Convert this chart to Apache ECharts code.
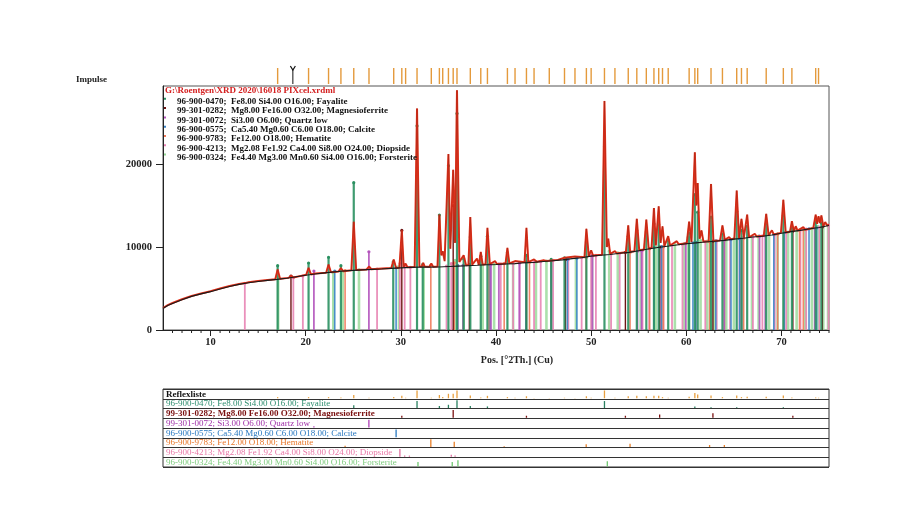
<!DOCTYPE html>
<html><head><meta charset="utf-8">
<script src="https://cdn.jsdelivr.net/npm/echarts@6/dist/echarts.min.js"></script>
<style>html,body{margin:0;padding:0;background:#fff}#c{width:906px;height:515px}</style>
</head><body><div id="c"></div><script>
// ---------- DATA ----------
const xTicks = [10, 20, 30, 40, 50, 60, 70];
const yTicks = [0, 10000, 20000];
const fileTitle = 'G:\\Roentgen\\XRD 2020\\16018 PIXcel.xrdml';
const yName = 'Impulse';
const xName = 'Pos. [°2Th.] (Cu)';
const tableTitle = 'Reflexliste';
const phaseCodes = ['96-900-0470', '99-301-0282', '99-301-0072', '96-900-0575', '96-900-9783', '96-900-4213', '96-900-0324'];
const phaseFormulas = ['Fe8.00 Si4.00 O16.00', 'Mg8.00 Fe16.00 O32.00', 'Si3.00 O6.00', 'Ca5.40 Mg0.60 C6.00 O18.00', 'Fe12.00 O18.00', 'Mg2.08 Fe1.92 Ca4.00 Si8.00 O24.00', 'Fe4.40 Mg3.00 Mn0.60 Si4.00 O16.00'];
const phaseNames = ['Fayalite', 'Magnesioferrite', 'Quartz low', 'Calcite', 'Hematite', 'Diopside', 'Forsterite'];

// observed pattern [2theta, counts]
const profile = [[5.0,2650],[5.5,3000],[6.0,3250],[7.0,3700],[8.0,4100],[9.0,4400],[10.0,4680],[11.0,5000],[12.0,5300],[13.0,5550],[13.6,5650],[14.0,5750],[15.0,5900],[16.0,6030],[16.8,6120],[17.05,7300],[17.3,6170],[18.2,6280],[18.45,6550],[18.7,6330],[19.5,6520],[20.05,6650],[20.3,7500],[20.55,6700],[21.0,6800],[22.15,6900],[22.4,7900],[22.65,6950],[23.45,7050],[23.7,7450],[23.95,7080],[24.8,7200],[25.05,13050],[25.3,7230],[26.4,7300],[26.65,7650],[26.9,7320],[28.0,7400],[29.0,7460],[29.25,8500],[29.5,7480],[29.85,7520],[30.1,12000],[30.3,7600],[30.5,8000],[30.7,7560],[31.45,7600],[31.7,26700],[31.95,7650],[32.2,7650],[32.35,8100],[32.5,7650],[33.0,7630],[33.2,8000],[33.4,7630],[33.85,7650],[34.05,13900],[34.25,9000],[34.4,9500],[34.6,8300],[34.8,8500],[35.0,21200],[35.2,9800],[35.5,19300],[35.7,10500],[35.9,28900],[36.15,8200],[36.6,9000],[36.85,7800],[37.1,7820],[37.3,13600],[37.5,7880],[38.0,8600],[38.2,7850],[38.4,9400],[38.6,7880],[38.9,7920],[39.1,12300],[39.35,7950],[39.9,8300],[40.1,7950],[41.0,8000],[41.2,9900],[41.4,8020],[42.0,8300],[42.2,8060],[43.0,8150],[43.2,12300],[43.4,8170],[44.0,8500],[44.3,8220],[45.0,8400],[45.3,8320],[46.5,8450],[47.2,8700],[47.4,8520],[48.3,8850],[48.5,8700],[49.3,8780],[49.5,12200],[49.75,8900],[50.0,9600],[50.2,8980],[51.15,9060],[51.4,27600],[51.65,10000],[51.8,11000],[52.0,9180],[52.5,9500],[52.7,9230],[53.2,9320],[53.65,9370],[53.9,12600],[54.1,9420],[54.55,9500],[54.8,13400],[55.05,9620],[55.55,9700],[55.8,13300],[56.05,9820],[56.35,9880],[56.6,14700],[56.8,10200],[57.1,14900],[57.3,10500],[57.5,12500],[57.7,10100],[58.1,11300],[58.3,10180],[59.0,10700],[59.2,10320],[60.05,10460],[60.3,13050],[60.55,10600],[60.9,21400],[61.05,15000],[61.2,17700],[61.4,11000],[61.6,12000],[61.8,10650],[62.35,10680],[62.6,17600],[62.85,10720],[63.55,10790],[63.8,12600],[64.05,10850],[64.5,11200],[64.7,10920],[65.05,11000],[65.3,16800],[65.55,11050],[65.8,13400],[66.05,11120],[66.4,13900],[66.6,11170],[67.2,11600],[67.4,11260],[68.15,11360],[68.4,14000],[68.65,11420],[69.0,12000],[69.2,11500],[69.95,11700],[70.2,15700],[70.45,11760],[70.9,11850],[71.1,13100],[71.3,11920],[71.5,12500],[71.7,11980],[72.3,12400],[72.5,12080],[73.35,12300],[73.6,13900],[73.75,12800],[73.9,13700],[74.05,12900],[74.2,13800],[74.4,12500],[74.6,13000],[74.8,12600],[75.0,12700]];

// background line [2theta, counts]
const background = [[5,2600],[5.5,2950],[6,3200],[7,3650],[8,4050],[9,4350],[10,4620],[11,4950],[12,5250],[13,5500],[14,5700],[15,5850],[16,5980],[17,6100],[18,6230],[19,6420],[20,6600],[21,6750],[22,6880],[23,7000],[24,7100],[25,7180],[26,7250],[27,7300],[28,7350],[29,7420],[30,7480],[31,7540],[32,7580],[33,7580],[34,7600],[35,7650],[36,7700],[37,7750],[38,7800],[39,7860],[40,7900],[41,7950],[42,8000],[43,8100],[44,8150],[45,8250],[46,8350],[47,8450],[48,8600],[49,8700],[50,8900],[51,9000],[52,9100],[53,9250],[54,9350],[55,9550],[56,9750],[57,9950],[58,10100],[59,10250],[60,10400],[61,10500],[62,10600],[63,10700],[64,10800],[65,10950],[66,11050],[67,11200],[68,11300],[69,11450],[70,11650],[71,11850],[72,12000],[73,12200],[74,12350],[75,12600]];

// reference sticks in the main plot [2theta, top counts]
const fayaliteSticks = [[17.05,7750],[20.3,8070],[22.4,8760],[23.7,7750],[25.05,17750],[29.2,8200],[31.7,24600],[32.3,7900],[34.05,13850],[35.0,19800],[35.9,26100],[36.6,8600],[37.3,11200],[38.4,8900],[39.1,11300],[41.2,9300],[43.2,9000],[45.8,8500],[47.2,8700],[49.5,10600],[51.4,22100],[53.9,11300],[54.8,12000],[55.8,11800],[56.6,12800],[57.1,12700],[58.1,10800],[60.3,11700],[60.9,16300],[61.2,14200],[62.6,13600],[63.8,11600],[65.3,14300],[65.8,12000],[66.4,12500],[68.4,12800],[70.2,13800],[71.1,12300],[73.6,13000],[74.2,12900]];
const magnesioferriteSticks = [[18.45,6500],[30.1,12000],[35.5,15000],[37.2,7900],[43.2,8200],[47.3,8500],[53.6,9350],[57.2,10000],[62.8,10700],[71.2,11900],[74.3,12400]];
const quartzSticks = [[20.86,7100],[26.64,9430],[36.54,7800],[39.47,7900],[40.3,7950],[42.45,8080],[45.8,8350],[50.14,8950],[54.87,9500],[55.3,9550],[57.2,10000],[59.95,10450],[63.99,10850],[65.8,11050],[67.7,11300],[68.3,11350],[73.5,12250]];
const calciteSticks = [[23.05,7100],[29.5,7500],[35.97,7750],[39.4,7900],[43.15,8150],[47.5,8500],[48.5,8650],[56.6,9950],[57.4,10050],[60.7,10500],[61.0,10550],[63.1,10750],[64.7,10900],[65.6,11000],[69.2,11500],[70.3,11750],[72.9,12200],[73.7,12300]];
const hematiteSticks = [[24.14,7150],[33.15,7800],[35.61,8100],[39.28,7900],[40.86,8000],[43.52,8150],[49.48,8750],[54.09,9350],[56.15,9800],[57.43,10050],[57.6,10050],[62.45,10650],[64.0,10850],[66.03,11050],[69.6,11550],[71.9,12050],[72.3,12100]];
const diopsideSticks = [[13.6,5620],[18.7,6300],[19.7,6500],[27.5,7350],[29.9,8000],[30.4,7700],[31.0,7550],[34.8,7700],[35.3,8000],[36.0,7750],[39.3,7900],[40.5,7950],[41.8,8050],[42.5,8080],[44.0,8200],[44.7,8250],[46.0,8400],[47.6,8500],[49.0,8750],[50.0,8950],[50.5,9000],[52.1,9150],[53.0,9250],[55.4,9600],[56.1,9800],[57.6,10000],[58.5,10200],[59.6,10300],[61.0,10550],[62.0,10650],[63.2,10750],[64.6,10900],[65.6,11000],[67.0,11200],[68.0,11350],[69.3,11500],[70.5,11750],[72.0,12050],[72.6,12150],[74.0,12400],[74.95,12650]];
const forsteriteSticks = [[17.1,6300],[22.9,6950],[23.9,7050],[25.6,7250],[29.8,7700],[32.4,7700],[35.7,8400],[36.6,7800],[38.6,7850],[39.8,7900],[41.8,8000],[44.2,8200],[45.3,8300],[48.4,8650],[50.1,9000],[51.9,9500],[52.8,9300],[55.2,9600],[56.8,10000],[58.8,10300],[59.8,10400],[60.2,11200],[61.5,10800],[62.2,10700],[62.9,10750],[64.2,10850],[65.0,11000],[65.9,11100],[66.9,11250],[67.6,11300],[68.7,11500],[69.6,11600],[70.7,11800],[71.6,12000],[72.5,12100],[73.2,12250],[73.8,12500],[74.4,12500],[74.9,12650]];

// peak list markers above the plot
const peakList = [17.05,20.3,22.4,23.7,25.05,26.65,29.25,30.1,30.5,31.7,33.2,34.05,34.4,35.0,35.5,35.9,37.3,38.4,39.1,41.2,42.0,43.2,44.0,45.6,47.2,48.3,49.5,50.0,51.4,52.5,53.9,54.8,55.8,56.6,57.1,57.5,58.1,60.3,60.9,61.2,62.6,63.8,65.3,65.8,66.4,68.4,70.2,71.1,73.6,73.9];
const cursorPos = [18.65];

// lower "Reflexliste" rows [2theta, relative height]
const reflexRow = [[17.05,0.2],[20.3,0.2],[22.4,0.2],[23.7,0.15],[25.05,0.45],[26.65,0.12],[29.25,0.2],[30.1,0.35],[30.5,0.12],[31.7,1.0],[33.2,0.12],[34.05,0.45],[34.4,0.2],[35.0,0.6],[35.5,0.6],[35.9,1.0],[37.3,0.4],[38.4,0.15],[39.1,0.35],[41.2,0.2],[42.0,0.12],[43.2,0.3],[44.0,0.1],[45.6,0.1],[47.2,0.12],[48.3,0.1],[49.5,0.3],[50.0,0.12],[51.4,1.0],[52.5,0.12],[53.9,0.3],[54.8,0.35],[55.8,0.3],[56.6,0.35],[57.1,0.35],[57.5,0.2],[58.1,0.12],[60.3,0.25],[60.9,0.7],[61.2,0.5],[62.6,0.4],[63.8,0.2],[65.3,0.4],[65.8,0.2],[66.4,0.25],[68.4,0.25],[70.2,0.4],[71.1,0.15],[73.6,0.15],[73.9,0.12]];
const fayaliteRow = [[17.05,0.1],[25.05,0.4],[31.7,0.9],[34.05,0.3],[35.0,0.45],[35.9,1.0],[37.3,0.3],[39.1,0.25],[51.4,0.9],[60.9,0.25],[62.6,0.15],[65.3,0.15],[70.2,0.15]];
const magnesioferriteRow = [[30.1,0.3],[35.5,1.0],[43.2,0.3],[53.6,0.3],[57.2,0.45],[62.8,0.6],[71.2,0.3]];
const quartzRow = [[20.86,0.2],[26.64,1.0]];
const calciteRow = [[29.5,1.0]];
const hematiteRow = [[24.14,0.2],[33.15,1.0],[35.61,0.7],[40.86,0.15],[49.48,0.4],[54.09,0.45],[62.45,0.3],[64.0,0.3]];
const diopsideRow = [[29.9,1.0],[30.4,0.2],[30.9,0.2],[35.3,0.3],[35.7,0.2]];
const forsteriteRow = [[17.1,0.15],[22.9,0.15],[31.8,0.6],[35.4,0.6],[36.0,0.8],[51.7,0.7]];

// minor tick positions on the 2theta axis (every degree)
const minorTicks = [];
for (let v = 6; v <= 75; v++) { if (v % 10 !== 0) minorTicks.push(v); }

// ---------- STYLE ----------
const serif = '"Liberation Serif", "Times New Roman", serif';
const stickColors = ['#2a9060', '#6e1414', '#b455bc', '#3a84c8', '#f07a5a', '#e884b4', '#96d896'];
const rowTextColors = ['#111', '#2f8f70', '#7a1010', '#a030a8', '#2878c0', '#e8772a', '#e87aa8', '#7fcc7f'];
const rowStickColors = ['#e8a040', '#2a8060', '#7a1010', '#b040b8', '#2878c0', '#e8802a', '#e070a0', '#70c870'];

const chart = echarts.init(document.getElementById('c'));

function stickSeries(data, color, width, opacity, z) {
  return {
    type: 'custom', xAxisIndex: 0, yAxisIndex: 0, data: data, z: z, silent: true,
    renderItem: function (params, api) {
      const x = api.value(0), y = api.value(1);
      const p0 = api.coord([x, 0]);
      const p1 = api.coord([x, y]);
      return { type: 'group', children: [
        { type: 'line', shape: { x1: p0[0], y1: p0[1], x2: p1[0], y2: p1[1] }, style: { stroke: color, lineWidth: width, opacity: opacity } },
        { type: 'circle', shape: { cx: p1[0], cy: p1[1], r: 1.6 }, style: { fill: color } }
      ] };
    }
  };
}
function rowSeries(data, row, color) {
  return {
    type: 'custom', xAxisIndex: 3, yAxisIndex: 2, data: data, z: 3, silent: true,
    renderItem: function (params, api) {
      const x = api.value(0), h = api.value(1);
      const b = api.coord([x, row + 1]);
      const t = api.coord([x, row + 1 - h * 0.85]);
      return { type: 'line', shape: { x1: b[0], y1: b[1] - 0.5, x2: t[0], y2: t[1] }, style: { stroke: color, lineWidth: 1.3 } };
    }
  };
}

const rows = [reflexRow, fayaliteRow, magnesioferriteRow, quartzRow, calciteRow, hematiteRow, diopsideRow, forsteriteRow];

const series = [];
series.push(stickSeries(forsteriteSticks, stickColors[6], 2.6, 0.8, 1));
series.push(stickSeries(diopsideSticks, stickColors[5], 1.8, 0.9, 2));
series.push(stickSeries(hematiteSticks, stickColors[4], 1.6, 0.9, 2));
series.push(stickSeries(calciteSticks, stickColors[3], 1.6, 0.9, 2));
series.push(stickSeries(quartzSticks, stickColors[2], 1.8, 0.9, 2));
series.push(stickSeries(magnesioferriteSticks, stickColors[1], 1.4, 1, 2));
series.push(stickSeries(fayaliteSticks, stickColors[0], 2.2, 0.9, 2));
series.push({ type: 'line', xAxisIndex: 0, yAxisIndex: 0, data: profile, showSymbol: false, silent: true, z: 4,
  lineStyle: { color: '#e8341e', width: 2 } });
series.push({ type: 'line', xAxisIndex: 0, yAxisIndex: 0, data: profile, showSymbol: false, silent: true, z: 5,
  lineStyle: { color: '#9a2212', width: 0.5 } });
series.push({ type: 'line', xAxisIndex: 0, yAxisIndex: 0, data: background, showSymbol: false, silent: true, z: 6,
  lineStyle: { color: '#1a1a1a', width: 1.1 } });
// minor ticks below the 2theta axis
series.push({ type: 'custom', xAxisIndex: 0, yAxisIndex: 0, data: minorTicks.map(v => [v, 0]), silent: true, z: 7, clip: false,
  renderItem: function (params, api) {
    const p = api.coord([api.value(0), 0]);
    return { type: 'line', shape: { x1: p[0], y1: p[1], x2: p[0], y2: p[1] + 3 }, style: { stroke: '#222', lineWidth: 1 } };
  } });
// peak list strip
series.push({ type: 'custom', xAxisIndex: 2, yAxisIndex: 1, data: peakList.map(v => [v, 1]), silent: true,
  renderItem: function (params, api) {
    const a = api.coord([api.value(0), 0]), b = api.coord([api.value(0), 1]);
    return { type: 'line', shape: { x1: a[0], y1: a[1], x2: b[0], y2: b[1] }, style: { stroke: '#e49a3c', lineWidth: 1.4 } };
  } });
series.push({ type: 'custom', xAxisIndex: 2, yAxisIndex: 1, data: cursorPos.map(v => [v, 1]), silent: true,
  renderItem: function (params, api) {
    const a = api.coord([api.value(0), 0]), b = api.coord([api.value(0), 1]);
    return { type: 'group', children: [
      { type: 'line', shape: { x1: a[0], y1: a[1], x2: b[0], y2: b[1] + 2 }, style: { stroke: '#111', lineWidth: 1 } },
      { type: 'polyline', shape: { points: [[b[0] - 2.5, b[1] - 2], [b[0], b[1] + 2], [b[0] + 2.5, b[1] - 2]] }, style: { stroke: '#111', fill: null, lineWidth: 1.2 } }
    ] };
  } });
rows.forEach((d, i) => series.push(rowSeries(d, i, rowStickColors[i])));

// graphic texts
const graphic = [];
graphic.push({ type: 'text', x: 165, y: 91, z: 20, style: { text: fileTitle, font: 'bold 9px ' + serif, fill: '#d42020', verticalAlign: 'middle' } });
phaseCodes.forEach((code, i) => {
  const y = 101.8 + i * 9.3;
  graphic.push({ type: 'text', x: 177, y: y, z: 20, style: { text: code + ';  ' + phaseFormulas[i] + '; ' + phaseNames[i], font: 'bold 9px ' + serif, fill: '#111', verticalAlign: 'middle' } });
  graphic.push({ type: 'rect', x: 164, y: y - 4, z: 20, shape: { width: 2, height: 2 }, style: { fill: stickColors[i] } });
});
const rowLabels = [tableTitle].concat(phaseCodes.map((c, i) => c + '; ' + phaseFormulas[i] + '; ' + phaseNames[i]));
rowLabels.forEach((t, i) => {
  graphic.push({ type: 'text', x: 166, y: 389 + 9.75 * i + 5.2, z: 20, style: { text: t, font: (i === 0 || i === 2 ? 'bold ' : '') + '9px ' + serif, fill: rowTextColors[i], verticalAlign: 'middle' } });
});

const tickFont = { fontFamily: serif, fontWeight: 'bold', fontSize: 10.5, color: '#222' };
const nameFont = { fontFamily: serif, fontWeight: 'bold', fontSize: 10, color: '#222' };

chart.setOption({
  animation: false,
  backgroundColor: '#fff',
  grid: [
    { left: 163, right: 77, top: 86, height: 244, show: true, borderColor: '#555', borderWidth: 1 },
    { left: 163, right: 77, top: 68, height: 16 },
    { left: 163, right: 77, top: 389, height: 78, show: true, borderColor: '#333', borderWidth: 1 }
  ],
  xAxis: [
    { gridIndex: 0, type: 'value', min: 5, max: 75, splitNumber: 7, position: 'bottom',
      axisLine: { onZero: false, lineStyle: { color: '#222', width: 1 } },
      axisTick: { customValues: xTicks, length: 6, lineStyle: { color: '#222' } },
      axisLabel: Object.assign({ customValues: xTicks, margin: 7, formatter: v => String(v) }, tickFont),
      splitLine: { show: false },
      name: xName, nameLocation: 'middle', nameGap: 25,
      nameTextStyle: Object.assign({ padding: [0, 0, 0, 42] }, nameFont) },
    { gridIndex: 0, type: 'value', min: 5, max: 75, show: false },
    { gridIndex: 1, type: 'value', min: 5, max: 75, show: false },
    { gridIndex: 2, type: 'value', min: 5, max: 75, show: false }
  ],
  yAxis: [
    { gridIndex: 0, type: 'value', min: 0, max: 29400,
      axisLine: { show: true, onZero: false, lineStyle: { color: '#222' } },
      axisTick: { show: true, customValues: yTicks, length: 7, lineStyle: { color: '#222' } },
      axisLabel: Object.assign({ customValues: yTicks, margin: 11, formatter: v => String(v) }, tickFont),
      splitLine: { show: false },
      name: yName, nameLocation: 'end', nameGap: 6,
      nameTextStyle: { fontFamily: serif, fontWeight: 'bold', fontSize: 9, color: '#222', align: 'right', verticalAlign: 'middle', padding: [0, 56, 0, 0] } },
    { gridIndex: 1, type: 'value', min: 0, max: 1, show: false },
    { gridIndex: 2, type: 'value', min: 0, max: 8, interval: 1, inverse: true,
      axisLine: { show: false }, axisTick: { show: false }, axisLabel: { show: false },
      splitLine: { show: true, lineStyle: { color: '#333', width: 1 } } }
  ],
  graphic: graphic,
  series: series
});
</script></body></html>
